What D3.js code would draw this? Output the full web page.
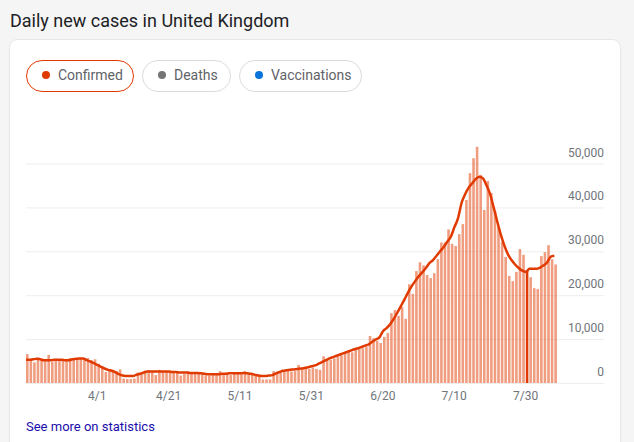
<!DOCTYPE html>
<html><head><meta charset="utf-8">
<script src="https://cdnjs.cloudflare.com/ajax/libs/d3/7.8.5/d3.min.js"></script>
<style>
html,body{margin:0;padding:0;background:#f5f5f5;overflow:hidden}
svg{display:block;font-family:Roboto,sans-serif}
</style></head><body><svg id="c" width="634" height="442"></svg>
<script>
const title = "Daily new cases in United Kingdom";
const chipNames = ["Confirmed","Deaths","Vaccinations"];
const chipDots = ["#e03a00","#757575","#0a74da"];
const tickLabels = ["4/1","4/21","5/11","5/31","6/20","7/10","7/30"];
const yTicks = [0,10000,20000,30000,40000,50000];
const highlighted = "7/30";
const dailyK = [
6.6,5.5,4.7,5.8,5.2,5.3,6.4,4.8,5.5,5.4,
5.3,5.5,5.7,5.6,5.7,5.7,5.5,5.7,5.2,5.4,
4.4,3.9,2.5,3.2,3.0,2.7,3.1,1.0,0.9,0.9,
1.0,2.4,2.5,2.8,2.9,2.7,1.8,3.0,2.6,2.6,
2.6,2.7,2.7,1.7,2.1,2.7,2.4,2.3,2.4,2.3,
1.7,1.7,2.0,2.0,2.7,2.2,2.4,1.8,2.4,2.4,
2.4,2.7,2.3,2.3,2.0,1.8,0.8,0.8,0.8,2.7,
2.2,2.4,2.6,2.8,2.6,2.7,4.1,3.4,3.5,3.2,
3.5,3.2,3.0,6.1,5.4,5.3,5.6,6.0,6.3,6.9,
7.5,7.0,7.6,7.9,7.9,8.2,10.7,10.2,9.6,9.1,
10.5,11.4,15.9,16.6,15.3,17.3,14.6,22.5,20.3,25.5,
27.5,26.8,24.6,23.9,25,28.2,32,32,35,31.7,
31.2,33.9,36.2,41.7,47.8,51.2,53.8,47.4,39.4,46,
43.3,39.2,35.5,32.1,28.7,24.4,23.2,25.3,30.5,29.2,
25.7,24.1,21.6,21.4,28.9,29.8,31.4,28.2,27];
const averageK = [
5.3,5.3,5.4,5.5,5.4,5.2,5.2,5.2,5.3,5.3,
5.3,5.2,5.2,5.4,5.5,5.6,5.6,5.2,4.9,4.5,
4.1,3.7,3.3,3.0,2.8,2.5,2.0,1.7,1.6,1.6,
1.6,1.9,2.1,2.4,2.6,2.6,2.6,2.6,2.6,2.6,
2.6,2.5,2.5,2.4,2.4,2.4,2.3,2.3,2.3,2.2,
2.1,2.0,2.0,2.0,2.0,2.1,2.1,2.2,2.2,2.2,
2.2,2.3,2.2,2.1,1.9,1.7,1.6,1.6,1.7,1.8,
2.2,2.5,2.8,2.9,3.0,3.1,3.2,3.3,3.4,3.6,
3.8,4.0,4.4,4.8,5.2,5.6,5.9,6.2,6.5,6.8,
7.1,7.4,7.7,7.9,8.2,8.5,8.8,9.4,9.9,10.4,
11.8,12.5,13.4,14.6,16,17.5,19,20.6,22,23.2,
24.3,25.2,26.2,27.3,28,29,30,31,32.2,33.3,
35.5,37.5,41,43,44.5,45.5,46.5,47,46.6,45,
43,40,36.8,33.8,31.3,29.3,28,27,26.2,25.6,
25.3,26,26,26,26.3,26.8,27.5,28.8,29];

const fmt = d3.timeFormat("%-m/%-d");
const dates = d3.range(dailyK.length).map(i => fmt(d3.timeDay.offset(new Date(2021,2,12), i)));
const svg = d3.select("#c");

svg.append("text").attr("x",10).attr("y",27).attr("font-size",18).attr("fill","#202124").text(title);
svg.append("rect").attr("x",9.5).attr("y",39.5).attr("width",611).attr("height",430).attr("rx",8)
   .attr("fill","#fff").attr("stroke","#e6e6e6");

const chipX = [[26,108],[142,89],[239,123]];
chipNames.forEach((n,i)=>{
  const g = svg.append("g");
  g.append("rect").attr("x",chipX[i][0]+.5).attr("y",60.5).attr("width",chipX[i][1]-1).attr("height",31).attr("rx",15.5)
   .attr("fill","#fff").attr("stroke", i===0?"#e03a00":"#dadce0");
  g.append("circle").attr("cx",chipX[i][0]+20).attr("cy",75).attr("r",4).attr("fill",chipDots[i]);
  g.append("text").attr("x",chipX[i][0]+32).attr("y",80).attr("font-size",14).attr("fill","#5f6368").text(n);
});

const step = 3.57, pad = 0.28;
const x = d3.scaleBand().domain(dates).range([26, 26 + step*(dates.length-pad)]).paddingInner(pad).paddingOuter(0).align(0);
const y = d3.scaleLinear().domain([0,50000]).range([383,163.5]);

const yAxis = svg.append("g").attr("transform","translate(604,0)")
  .call(d3.axisLeft(y).tickValues(yTicks).tickSize(578).tickFormat(d3.format(",")));
yAxis.select(".domain").remove();
yAxis.selectAll("line").attr("stroke","#eeeeee");
yAxis.selectAll("text").attr("x",0).attr("dy","-7.5").attr("text-anchor","end")
  .attr("font-size",12).attr("font-family","Roboto").attr("fill","#70757a");

svg.append("g").selectAll("rect").data(dates).join("rect")
  .attr("x",d=>x(d)).attr("width",x.bandwidth())
  .attr("y",(d,i)=>y(dailyK[i]*1000)).attr("height",(d,i)=>383-y(dailyK[i]*1000))
  .attr("fill","#e03a00").attr("fill-opacity",d=>d===highlighted?1:0.5);

const line = d3.line().x((d,i)=>x(dates[i])).y(d=>y(d*1000)).curve(d3.curveMonotoneX);
svg.append("path").attr("d",line(averageK)).attr("fill","none").attr("stroke","#e03a00").attr("stroke-width",2.5);

const xAxis = svg.append("g").attr("transform","translate(0,383)")
  .call(d3.axisBottom(x).tickValues(tickLabels).tickSize(0).tickPadding(8));
xAxis.select(".domain").remove();
xAxis.selectAll("text").attr("dx",-1.5).attr("font-size",12).attr("font-family","Roboto").attr("fill","#70757a");

svg.append("text").attr("x",26).attr("y",431).attr("font-size",13).attr("fill","#1a0dab").text("See more on statistics");
</script></body></html>
